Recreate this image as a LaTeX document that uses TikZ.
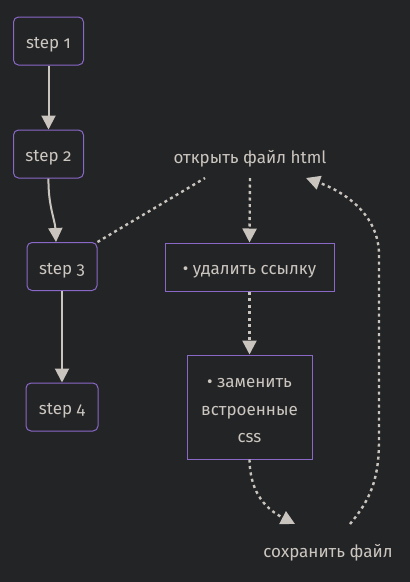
\documentclass[tikz,border=0pt]{standalone}
\usepackage{fontspec}
\setmainfont{Fira Sans}[Numbers=OldStyle]
\usetikzlibrary{arrows.meta}
\definecolor{bg}{HTML}{232426}
\definecolor{edge}{HTML}{CAC4BE}
\definecolor{txt}{HTML}{CCC6C0}
\definecolor{border}{HTML}{8A68C8}
\tikzset{
  stepbox/.style={draw=border, line width=1pt, rounded corners=5pt, text=txt, inner sep=0pt, minimum width=70pt, minimum height=48pt, text height=15pt, text depth=0pt, font=\fontsize{17}{20}\selectfont},
  taskbox/.style={draw=border, line width=1pt, text=txt, inner sep=0pt, font=\fontsize{17}{27.5}\selectfont, align=center},
  plain/.style={text=txt, inner sep=0pt, font=\fontsize{17}{20}\selectfont},
  solidedge/.style={draw=edge, line width=2pt, -{Triangle[length=14pt,width=14pt]}},
  dotedge/.style={draw=edge, line width=2.4pt, dash pattern=on 3pt off 3.5pt},
  dotarrow/.style={dotedge, -{Triangle[length=14pt,width=14pt]}}
}
\begin{document}
\begin{tikzpicture}[x=1pt,y=-1pt]
\fill[bg] (0,0) rectangle (410,582);
\useasboundingbox (0,0) rectangle (410,582);
\node[stepbox] (s1) at (48.5,41) {step 1};
\node[stepbox] (s2) at (48.5,154) {step 2};
\node[stepbox] (s3) at (62,266.5) {step 3};
\node[stepbox, minimum width=72pt] (s4) at (62,407) {step 4};
\node[plain] (open) at (250,159) {открыть файл html};
\node[taskbox, minimum width=169pt, minimum height=48pt, text height=15pt, text depth=0pt] (del) at (249.5,267) {• удалить ссылку};
\node[taskbox, minimum width=125pt, minimum height=104pt] (rep) at (249.5,407) {};
\node[plain, align=center, font=\fontsize{17}{27.5}\selectfont] (reptext) at (249.5,411) {• заменить\\встроенные\\css};
\node[plain] (save) at (328,553) {сохранить файл};
\coordinate (oL) at (205,178);
\coordinate (oB) at (250,178);
\coordinate (oR) at (306,178);
\coordinate (sL) at (295,524);
\coordinate (sR) at (350,524);
\draw[solidedge] (s1.south) -- (s2.north);
\draw[solidedge] (s2.south) .. controls (48,205) and (55,220) .. ([xshift=-6pt]s3.north);
\draw[solidedge] (s3.south) -- (s4.north);
\draw[dotedge] (s3.north east) -- (oL);
\draw[dotarrow] (oB) -- (del.north);
\draw[dotarrow] (del.south) -- (rep.north);
\draw[dotarrow] (rep.south) .. controls (250,495) and (268,510) .. (sL);
\draw[dotarrow] (sR) .. controls (370,500) and (379,480) .. (379,440) -- (379,255) .. controls (379,215) and (345,192) .. (oR);
\end{tikzpicture}
\end{document}
